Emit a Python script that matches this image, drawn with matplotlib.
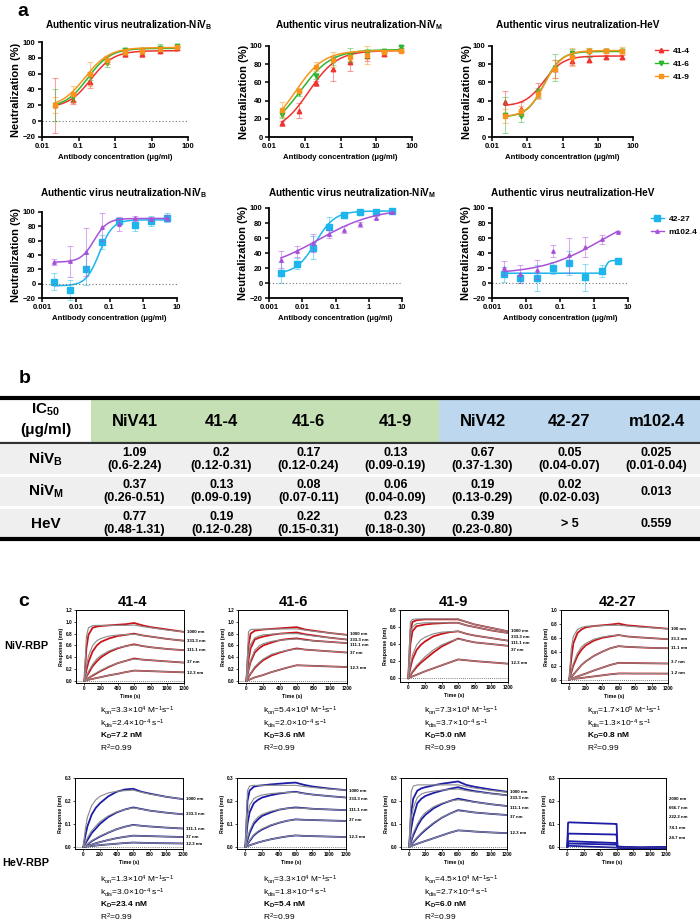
import numpy as np
import matplotlib
matplotlib.use("Agg")
import matplotlib.pyplot as plt
from matplotlib.lines import Line2D
from matplotlib.patches import Rectangle

plt.rcParams['font.family'] = ['Liberation Sans', 'DejaVu Sans']
plt.rcParams['mathtext.fontset'] = 'custom'
plt.rcParams['mathtext.rm'] = 'Liberation Sans'
plt.rcParams['mathtext.it'] = 'Liberation Sans'
plt.rcParams['mathtext.bf'] = 'Liberation Sans:bold'
plt.rcParams['mathtext.default'] = 'regular'

# ---------------- panel a data ----------------
conc_41 = [0.0229, 0.0686, 0.206, 0.617, 1.85, 5.56, 16.7, 50]
conc_42 = [0.00229, 0.00686, 0.0206, 0.0617, 0.185, 0.556, 1.67, 5]

nivb_414 = [20, 27, 50, 77, 85, 85, 89, 92]
nivb_414_err = [35, 5, 8, 5, 4, 4, 3, 2]
nivb_416 = [20, 30, 57, 74, 90, 90, 93, 95]
nivb_416_err = [20, 5, 5, 6, 3, 3, 5, 1]
nivb_419 = [20, 34, 60, 77, 87, 88, 91, 94]
nivb_419_err = [10, 10, 15, 5, 3, 3, 3, 1]

nivm_414 = [15, 29, 59, 75, 82, 89, 91, 96]
nivm_414_err = [3, 8, 3, 13, 10, 5, 2, 2]
nivm_416 = [24, 48, 67, 84, 90, 92, 94, 99]
nivm_416_err = [3, 3, 3, 5, 8, 5, 2, 1]
nivm_419 = [30, 51, 77, 85, 88, 90, 93, 95]
nivm_419_err = [8, 3, 5, 8, 5, 10, 2, 1]

hev_414 = [38, 31, 51, 75, 84, 85, 88, 88]
hev_414_err = [13, 8, 8, 10, 5, 3, 2, 2]
hev_416 = [24, 23, 49, 76, 92, 93, 94.5, 94.5]
hev_416_err = [20, 6, 5, 15, 5, 5, 2, 2]
hev_419 = [23, 29, 47, 75, 88, 95, 95, 95]
hev_419_err = [8, 5, 5, 10, 10, 3, 3, 4]

nivb_4227 = [3, -9, 20, 58, 87, 82, 87, 92]
nivb_4227_err = [12, 14, 22, 10, 5, 8, 7, 6]
nivb_m102 = [30, 31, 44, 79, 83, 91, 90, 92]
nivb_m102_err = [4, 22, 34, 19, 10, 3, 3, 4]

nivm_4227 = [14, 26, 47, 75, 91, 94, 95, 96]
nivm_4227_err = [14, 7, 15, 13, 4, 1, 1, 1]
nivm_m102 = [31, 42, 53, 65, 71, 78, 87, 94]
nivm_m102_err = [11, 7, 12, 5, 5, 3, 2, 1]

hev_4227 = [12, 7, 7, 19.5, 27, 8, 16, 30]
hev_4227_err = [10, 7, 17, 8, 16, 18, 8, 1]
hev_m102 = [20, 12.5, 18, 43, 37, 48, 58, 68.6]
hev_m102_err = [9, 12, 13, 8, 23, 13, 6, 1]

# 4PL fit parameters (bottom, top, EC50, hill)
fit_nivb = {'41-4': (17, 89, 0.22, 1.4), '41-6': (17, 92, 0.18, 1.4), '41-9': (17, 93, 0.15, 1.3),
            '42-27': (-3, 89, 0.05, 2.2), 'm102.4': (30, 91, 0.035, 2.2)}
fit_nivm = {'41-4': (5, 95, 0.13, 1.1), '41-6': (5, 96, 0.075, 1.0), '41-9': (5, 95, 0.055, 1.1),
            '42-27': (12, 96, 0.025, 1.5), 'm102.4': (15, 100, 0.03, 0.5)}
fit_hev = {'41-4': (34, 89, 0.30, 1.6), '41-6': (22, 94, 0.30, 1.8), '41-9': (22, 95, 0.31, 1.7),
           '42-27': (13, 30, 2.2, 10), 'm102.4': (12, 100, 1.5, 0.5)}

# ---------------- panel b data ----------------
table_cols = ['NiV41', '41-4', '41-6', '41-9', 'NiV42', '42-27', 'm102.4']
table_rows = ['NiV$_{B}$', 'NiV$_{M}$', 'HeV']
ic50_nivb = ['1.09\n(0.6-2.24)', '0.2\n(0.12-0.31)', '0.17\n(0.12-0.24)', '0.13\n(0.09-0.19)',
             '0.67\n(0.37-1.30)', '0.05\n(0.04-0.07)', '0.025\n(0.01-0.04)']
ic50_nivm = ['0.37\n(0.26-0.51)', '0.13\n(0.09-0.19)', '0.08\n(0.07-0.11)', '0.06\n(0.04-0.09)',
             '0.19\n(0.13-0.29)', '0.02\n(0.02-0.03)', '0.013']
ic50_hev = ['0.77\n(0.48-1.31)', '0.19\n(0.12-0.28)', '0.22\n(0.15-0.31)', '0.23\n(0.18-0.30)',
            '0.39\n(0.23-0.80)', '> 5', '0.559']

# ---------------- panel c data ----------------
t_bli = [0, 25, 50, 100, 150, 200, 300, 400, 500, 600, 700, 800, 1000, 1200]
conc_41_bli = ['1000 nm', '333.3 nm', '111.1 nm', '37 nm', '12.3 nm']
conc_4227_niv = ['100 nm', '33.3 nm', '11.1 nm', '3.7 nm', '1.2 nm']
conc_4227_hev = ['2000 nm', '666.7 nm', '222.2 nm', '74.1 nm', '24.7 nm']

niv_414 = [[0, 0.55, 0.78, 0.90, 0.92, 0.93, 0.94, 0.95, 0.96, 0.98, 0.94, 0.91, 0.87, 0.83],
           [0, 0.18, 0.32, 0.50, 0.60, 0.66, 0.72, 0.76, 0.78, 0.80, 0.77, 0.75, 0.71, 0.68],
           [0, 0.07, 0.13, 0.25, 0.33, 0.40, 0.49, 0.55, 0.59, 0.62, 0.59, 0.57, 0.54, 0.52],
           [0, 0.025, 0.05, 0.09, 0.13, 0.17, 0.24, 0.30, 0.34, 0.38, 0.36, 0.35, 0.33, 0.31],
           [0, 0.01, 0.02, 0.035, 0.05, 0.065, 0.095, 0.12, 0.15, 0.175, 0.17, 0.165, 0.155, 0.145]]
niv_414_fit = [[0, 0.75, 0.90, 0.935, 0.94, 0.94, 0.94, 0.94, 0.94, 0.945, 0.92, 0.90, 0.86, 0.83],
               [0, 0.25, 0.42, 0.60, 0.68, 0.72, 0.76, 0.775, 0.785, 0.79, 0.77, 0.75, 0.71, 0.68],
               [0, 0.08, 0.16, 0.28, 0.37, 0.43, 0.51, 0.56, 0.59, 0.61, 0.59, 0.57, 0.54, 0.52],
               [0, 0.025, 0.05, 0.10, 0.14, 0.18, 0.25, 0.30, 0.34, 0.37, 0.36, 0.35, 0.33, 0.31],
               [0, 0.01, 0.02, 0.035, 0.05, 0.065, 0.095, 0.12, 0.15, 0.175, 0.17, 0.165, 0.155, 0.145]]

niv_416 = [[0, 0.60, 0.80, 0.85, 0.86, 0.87, 0.88, 0.89, 0.90, 0.91, 0.87, 0.85, 0.81, 0.78],
           [0, 0.35, 0.55, 0.70, 0.73, 0.75, 0.78, 0.80, 0.81, 0.82, 0.79, 0.77, 0.73, 0.70],
           [0, 0.18, 0.32, 0.48, 0.55, 0.60, 0.65, 0.69, 0.71, 0.72, 0.70, 0.68, 0.66, 0.64],
           [0, 0.06, 0.12, 0.22, 0.29, 0.35, 0.43, 0.48, 0.52, 0.55, 0.53, 0.52, 0.50, 0.48],
           [0, 0.015, 0.03, 0.06, 0.08, 0.10, 0.15, 0.19, 0.23, 0.265, 0.26, 0.255, 0.245, 0.235]]
niv_416_fit = [[0, 0.83, 0.87, 0.875, 0.875, 0.875, 0.875, 0.88, 0.88, 0.88, 0.86, 0.84, 0.81, 0.78],
               [0, 0.45, 0.62, 0.73, 0.76, 0.78, 0.79, 0.80, 0.80, 0.80, 0.78, 0.76, 0.73, 0.70],
               [0, 0.20, 0.35, 0.52, 0.59, 0.63, 0.67, 0.69, 0.70, 0.71, 0.69, 0.68, 0.66, 0.64],
               [0, 0.07, 0.13, 0.24, 0.31, 0.37, 0.45, 0.49, 0.52, 0.54, 0.53, 0.52, 0.50, 0.48],
               [0, 0.015, 0.03, 0.06, 0.08, 0.10, 0.15, 0.19, 0.23, 0.265, 0.26, 0.255, 0.245, 0.235]]

niv_419 = [[0, 0.55, 0.66, 0.68, 0.685, 0.69, 0.69, 0.69, 0.69, 0.69, 0.66, 0.63, 0.59, 0.55],
           [0, 0.40, 0.55, 0.61, 0.62, 0.63, 0.64, 0.645, 0.65, 0.65, 0.62, 0.60, 0.56, 0.53],
           [0, 0.12, 0.22, 0.33, 0.39, 0.43, 0.49, 0.52, 0.54, 0.55, 0.52, 0.50, 0.47, 0.44],
           [0, 0.03, 0.07, 0.13, 0.18, 0.22, 0.30, 0.37, 0.42, 0.465, 0.44, 0.42, 0.40, 0.38],
           [0, 0.01, 0.02, 0.04, 0.06, 0.08, 0.115, 0.15, 0.185, 0.22, 0.21, 0.20, 0.185, 0.17]]
niv_419_fit = [[0, 0.66, 0.69, 0.695, 0.695, 0.695, 0.695, 0.695, 0.695, 0.695, 0.66, 0.63, 0.59, 0.55],
               [0, 0.50, 0.60, 0.64, 0.645, 0.65, 0.65, 0.65, 0.65, 0.65, 0.62, 0.60, 0.56, 0.53],
               [0, 0.16, 0.27, 0.39, 0.45, 0.48, 0.52, 0.54, 0.545, 0.55, 0.52, 0.50, 0.47, 0.44],
               [0, 0.04, 0.08, 0.15, 0.20, 0.25, 0.33, 0.39, 0.43, 0.46, 0.44, 0.42, 0.40, 0.38],
               [0, 0.01, 0.02, 0.04, 0.06, 0.08, 0.115, 0.15, 0.185, 0.22, 0.21, 0.20, 0.185, 0.17]]

niv_4227 = [[0, 0.30, 0.52, 0.67, 0.72, 0.75, 0.77, 0.78, 0.79, 0.805, 0.78, 0.77, 0.75, 0.73],
            [0, 0.10, 0.20, 0.34, 0.43, 0.49, 0.56, 0.60, 0.62, 0.64, 0.62, 0.61, 0.595, 0.58],
            [0, 0.03, 0.07, 0.14, 0.21, 0.26, 0.34, 0.40, 0.45, 0.48, 0.47, 0.465, 0.455, 0.45],
            [0, 0.01, 0.02, 0.045, 0.065, 0.085, 0.13, 0.17, 0.21, 0.24, 0.238, 0.236, 0.233, 0.23],
            [0, 0.005, 0.01, 0.015, 0.022, 0.03, 0.045, 0.06, 0.075, 0.087, 0.087, 0.086, 0.086, 0.085]]
niv_4227_fit = [[0, 0.45, 0.62, 0.72, 0.75, 0.765, 0.77, 0.775, 0.78, 0.78, 0.77, 0.76, 0.745, 0.73],
                [0, 0.12, 0.23, 0.38, 0.47, 0.52, 0.58, 0.61, 0.63, 0.64, 0.62, 0.61, 0.595, 0.58],
                [0, 0.03, 0.07, 0.14, 0.21, 0.26, 0.34, 0.40, 0.45, 0.48, 0.47, 0.465, 0.455, 0.45],
                [0, 0.01, 0.02, 0.045, 0.065, 0.085, 0.13, 0.17, 0.21, 0.24, 0.238, 0.236, 0.233, 0.23],
                [0, 0.005, 0.01, 0.015, 0.022, 0.03, 0.045, 0.06, 0.075, 0.087, 0.087, 0.086, 0.086, 0.085]]

hev_414_bli = [[0, 0.05, 0.09, 0.14, 0.17, 0.19, 0.22, 0.24, 0.25, 0.253, 0.24, 0.232, 0.218, 0.208],
               [0, 0.015, 0.03, 0.06, 0.08, 0.10, 0.13, 0.15, 0.163, 0.172, 0.165, 0.158, 0.149, 0.142],
               [0, 0.005, 0.01, 0.025, 0.035, 0.045, 0.062, 0.077, 0.088, 0.096, 0.092, 0.089, 0.084, 0.08],
               [0, 0.002, 0.005, 0.01, 0.016, 0.021, 0.03, 0.038, 0.044, 0.049, 0.048, 0.047, 0.045, 0.043],
               [0, 0.001, 0.002, 0.004, 0.006, 0.008, 0.011, 0.014, 0.017, 0.019, 0.018, 0.017, 0.016, 0.015]]
hev_414_fit = [[0, 0.08, 0.13, 0.18, 0.205, 0.22, 0.235, 0.242, 0.245, 0.247, 0.238, 0.23, 0.218, 0.208],
               [0, 0.02, 0.04, 0.07, 0.09, 0.11, 0.135, 0.152, 0.163, 0.17, 0.164, 0.158, 0.149, 0.142],
               [0, 0.006, 0.012, 0.027, 0.037, 0.047, 0.063, 0.077, 0.088, 0.095, 0.092, 0.089, 0.084, 0.08],
               [0, 0.002, 0.005, 0.01, 0.016, 0.021, 0.03, 0.038, 0.044, 0.049, 0.048, 0.047, 0.045, 0.043],
               [0, 0.001, 0.002, 0.004, 0.006, 0.008, 0.011, 0.014, 0.017, 0.019, 0.018, 0.017, 0.016, 0.015]]

hev_416_bli = [[0, 0.20, 0.245, 0.262, 0.266, 0.268, 0.272, 0.275, 0.278, 0.28, 0.27, 0.263, 0.254, 0.247],
               [0, 0.10, 0.15, 0.19, 0.205, 0.215, 0.225, 0.232, 0.237, 0.24, 0.233, 0.228, 0.221, 0.215],
               [0, 0.03, 0.06, 0.10, 0.12, 0.135, 0.15, 0.162, 0.168, 0.172, 0.169, 0.166, 0.163, 0.16],
               [0, 0.012, 0.025, 0.05, 0.065, 0.076, 0.093, 0.105, 0.114, 0.12, 0.118, 0.117, 0.115, 0.113],
               [0, 0.003, 0.007, 0.013, 0.019, 0.024, 0.033, 0.04, 0.046, 0.05, 0.048, 0.047, 0.045, 0.043]]
hev_416_fit = [[0, 0.245, 0.265, 0.268, 0.268, 0.268, 0.268, 0.268, 0.268, 0.268, 0.263, 0.259, 0.252, 0.247],
               [0, 0.13, 0.18, 0.21, 0.22, 0.226, 0.232, 0.235, 0.237, 0.238, 0.232, 0.228, 0.221, 0.215],
               [0, 0.04, 0.07, 0.11, 0.13, 0.142, 0.155, 0.163, 0.168, 0.17, 0.168, 0.166, 0.163, 0.16],
               [0, 0.014, 0.028, 0.053, 0.068, 0.079, 0.095, 0.106, 0.114, 0.119, 0.118, 0.117, 0.115, 0.113],
               [0, 0.003, 0.007, 0.013, 0.019, 0.024, 0.033, 0.04, 0.046, 0.05, 0.048, 0.047, 0.045, 0.043]]

hev_419_bli = [[0, 0.15, 0.21, 0.245, 0.255, 0.26, 0.268, 0.275, 0.28, 0.285, 0.27, 0.262, 0.25, 0.24],
               [0, 0.08, 0.13, 0.19, 0.21, 0.222, 0.235, 0.245, 0.253, 0.26, 0.25, 0.243, 0.233, 0.225],
               [0, 0.025, 0.05, 0.09, 0.12, 0.14, 0.168, 0.187, 0.2, 0.21, 0.203, 0.196, 0.186, 0.178],
               [0, 0.01, 0.02, 0.04, 0.058, 0.074, 0.103, 0.127, 0.145, 0.16, 0.155, 0.15, 0.144, 0.139],
               [0, 0.003, 0.007, 0.014, 0.02, 0.026, 0.038, 0.05, 0.062, 0.072, 0.07, 0.067, 0.063, 0.06]]
hev_419_fit = [[0, 0.24, 0.265, 0.27, 0.27, 0.27, 0.27, 0.27, 0.27, 0.27, 0.262, 0.256, 0.246, 0.238],
               [0, 0.12, 0.17, 0.215, 0.23, 0.237, 0.243, 0.247, 0.25, 0.252, 0.245, 0.24, 0.232, 0.225],
               [0, 0.03, 0.06, 0.10, 0.13, 0.15, 0.175, 0.19, 0.2, 0.205, 0.2, 0.195, 0.186, 0.178],
               [0, 0.01, 0.022, 0.043, 0.062, 0.078, 0.106, 0.128, 0.145, 0.158, 0.154, 0.15, 0.144, 0.139],
               [0, 0.003, 0.007, 0.014, 0.02, 0.026, 0.038, 0.05, 0.062, 0.072, 0.07, 0.067, 0.063, 0.06]]

t_4227_hev = [0, 10, 20, 595, 600, 610, 700, 900, 1200]
hev_4227_bli = [[0, 0.105, 0.107, 0.100, 0.100, 0.002, 0.0, -0.002, 0.0],
                [0, 0.055, 0.058, 0.054, 0.054, 0.0, -0.002, -0.003, -0.002],
                [0, 0.020, 0.025, 0.017, 0.017, -0.002, -0.003, -0.003, -0.002],
                [0, 0.012, 0.015, 0.010, 0.010, -0.002, -0.003, -0.004, -0.003],
                [0, 0.003, 0.005, -0.003, -0.003, -0.004, -0.005, -0.005, -0.004]]

kinetics = {
    ('NiV', '41-4'): ('3.3', '4', '2.4', '7.2'),
    ('NiV', '41-6'): ('5.4', '4', '2.0', '3.6'),
    ('NiV', '41-9'): ('7.3', '4', '3.7', '5.0'),
    ('NiV', '42-27'): ('1.7', '5', '1.3', '0.8'),
    ('HeV', '41-4'): ('1.3', '4', '3.0', '23.4'),
    ('HeV', '41-6'): ('3.3', '4', '1.8', '5.4'),
    ('HeV', '41-9'): ('4.5', '4', '2.7', '6.0'),
}

# ---------------- styling ----------------
RED, GREEN, ORANGE = '#ee3330', '#2db52d', '#f7941d'
CYAN, PURPLE = '#1cb5ec', '#a851d9'
BLI_RED, BLI_BLUE, FIT_GREY = '#c8141a', '#1c1ca6', '#8a8a8a'

W, H = 700, 922
fig = plt.figure(figsize=(7, 9.22), dpi=100)


def px_axes(x0, y0, x1, y1):
    return fig.add_axes([x0 / W, 1 - y1 / H, (x1 - x0) / W, (y1 - y0) / H])


def ftext(x, y, s, **kw):
    fig.text(x / W, 1 - y / H, s, **kw)


def neut_panel(box, conc, series, ylim, yticks, xlim, xticks, title_xy, title):
    ax = px_axes(*box)
    for name, vals, errs, fit, color, marker, ms in series:
        ax.errorbar(conc, vals, yerr=errs, fmt='none', ecolor=color, alpha=0.45,
                    elinewidth=0.8, capsize=2, capthick=0.8, clip_on=False)
        xs = np.logspace(np.log10(conc[0]), np.log10(conc[-1]), 300)
        b, t, ec, h = fit
        ax.plot(xs, b + (t - b) / (1 + (ec / xs) ** h), color=color, lw=1.1)
        ax.plot(conc, vals, ls='none', marker=marker, color=color, ms=ms, clip_on=False)
    ax.set_xscale('log')
    ax.set_xlim(*xlim)
    ax.set_ylim(*ylim)
    ax.set_xticks(xticks)
    ax.set_xticklabels([f'{v:g}' for v in xticks])
    ax.set_yticks(yticks)
    ax.minorticks_off()
    ax.axhline(0, color='#777777', ls=(0, (1, 2)), lw=0.8)
    for s in ['top', 'right']:
        ax.spines[s].set_visible(False)
    for s in ['left', 'bottom']:
        ax.spines[s].set_linewidth(1.3)
    ax.tick_params(labelsize=5.5, width=1.1, length=3, pad=1.5)
    for lab in ax.get_xticklabels() + ax.get_yticklabels():
        lab.set_fontweight('bold')
    ax.set_ylabel('Neutralization (%)', fontsize=8, fontweight='bold', labelpad=1)
    ax.set_xlabel('Antibody concentration (\u03bcg/ml)', fontsize=5.6, fontweight='bold', labelpad=3)
    ftext(title_xy[0], title_xy[1], title, fontsize=7.2, fontweight='bold', ha='center', va='center')
    return ax


top_xt = [0.01, 0.1, 1, 10, 100]
bot_xt = [0.001, 0.01, 0.1, 1, 10]
ytk = [-20, 0, 20, 40, 60, 80, 100]
ytk0 = [0, 20, 40, 60, 80, 100]

neut_panel((42, 42, 188, 137), conc_41,
           [('41-4', nivb_414, nivb_414_err, fit_nivb['41-4'], RED, '^', 3.2),
            ('41-6', nivb_416, nivb_416_err, fit_nivb['41-6'], GREEN, 'v', 3.2),
            ('41-9', nivb_419, nivb_419_err, fit_nivb['41-9'], ORANGE, 's', 2.8)],
           (-20, 100), ytk, (0.01, 100), top_xt, (129, 25),
           r'Authentic virus neutralization-NiV$_{\mathbf{B}}$')
neut_panel((269, 46, 412, 137), conc_41,
           [('41-4', nivm_414, nivm_414_err, fit_nivm['41-4'], RED, '^', 3.2),
            ('41-6', nivm_416, nivm_416_err, fit_nivm['41-6'], GREEN, 'v', 3.2),
            ('41-9', nivm_419, nivm_419_err, fit_nivm['41-9'], ORANGE, 's', 2.8)],
           (0, 100), ytk0, (0.01, 100), top_xt, (359, 25),
           r'Authentic virus neutralization-NiV$_{\mathbf{M}}$')
neut_panel((492, 46, 633, 137), conc_41,
           [('41-4', hev_414, hev_414_err, fit_hev['41-4'], RED, '^', 3.2),
            ('41-6', hev_416, hev_416_err, fit_hev['41-6'], GREEN, 'v', 3.2),
            ('41-9', hev_419, hev_419_err, fit_hev['41-9'], ORANGE, 's', 2.8)],
           (0, 100), ytk0, (0.01, 100), top_xt, (578, 25),
           'Authentic virus neutralization-HeV')
h1 = [Line2D([], [], color=RED, marker='^', ms=3.2, lw=1),
      Line2D([], [], color=GREEN, marker='v', ms=3.2, lw=1),
      Line2D([], [], color=ORANGE, marker='s', ms=2.8, lw=1)]
fig.legend(h1, ['41-4', '41-6', '41-9'], loc='upper left', bbox_to_anchor=(647 / W, 1 - 40 / H),
           frameon=False, prop={'size': 6, 'weight': 'bold'}, handlelength=1.6,
           handletextpad=0.6, labelspacing=0.6)

neut_panel((42, 212, 177, 298), conc_42,
           [('42-27', nivb_4227, nivb_4227_err, fit_nivb['42-27'], CYAN, 's', 3.8),
            ('m102.4', nivb_m102, nivb_m102_err, fit_nivb['m102.4'], PURPLE, '^', 2.5)],
           (-20, 100), ytk, (0.001, 10), bot_xt, (124, 193),
           r'Authentic virus neutralization-NiV$_{\mathbf{B}}$')
neut_panel((269, 208, 402, 298), conc_42,
           [('42-27', nivm_4227, nivm_4227_err, fit_nivm['42-27'], CYAN, 's', 3.8),
            ('m102.4', nivm_m102, nivm_m102_err, fit_nivm['m102.4'], PURPLE, '^', 2.5)],
           (-20, 100), ytk, (0.001, 10), bot_xt, (352, 193),
           r'Authentic virus neutralization-NiV$_{\mathbf{M}}$')
neut_panel((492, 208, 628, 298), conc_42,
           [('42-27', hev_4227, hev_4227_err, fit_hev['42-27'], CYAN, 's', 3.8),
            ('m102.4', hev_m102, hev_m102_err, fit_hev['m102.4'], PURPLE, '^', 2.5)],
           (-20, 100), ytk, (0.001, 10), bot_xt, (573, 193),
           'Authentic virus neutralization-HeV')
h2 = [Line2D([], [], color=CYAN, marker='s', ms=3.8, lw=1),
      Line2D([], [], color=PURPLE, marker='^', ms=2.5, lw=1)]
fig.legend(h2, ['42-27', 'm102.4'], loc='upper left', bbox_to_anchor=(643 / W, 1 - 208 / H),
           frameon=False, prop={'size': 6, 'weight': 'bold'}, handlelength=1.6,
           handletextpad=0.6, labelspacing=0.6)

# ---------------- panel b: table ----------------
tb = px_axes(0, 390, 700, 545)
tb.set_xlim(0, 700)
tb.set_ylim(545, 390)
tb.axis('off')
lab_w = 91
col_w = (700 - lab_w) / len(table_cols)
tb.add_patch(Rectangle((lab_w, 399), col_w * 4, 43, color='#c5e0b4', lw=0))
tb.add_patch(Rectangle((lab_w + col_w * 4, 399), col_w * 3, 43, color='#bdd7ee', lw=0))
row_tops = [445, 477, 509]
for y0 in row_tops:
    tb.add_patch(Rectangle((0, y0), 700, 29, color='#efefef', lw=0))
tb.plot([0, 700], [397.5, 397.5], color='black', lw=3, solid_capstyle='butt')
tb.plot([0, 700], [443, 443], color='#333333', lw=1.6, solid_capstyle='butt')
tb.plot([0, 700], [539, 539], color='black', lw=3, solid_capstyle='butt')
tb.text(lab_w / 2, 410, 'IC$_{50}$', fontsize=11, fontweight='bold', ha='center', va='center')
tb.text(lab_w / 2, 430, '(\u03bcg/ml)', fontsize=11, fontweight='bold', ha='center', va='center')
for i, c in enumerate(table_cols):
    tb.text(lab_w + col_w * (i + 0.5), 421, c, fontsize=12, fontweight='bold', ha='center', va='center')
for y0, rname, vals in zip(row_tops, table_rows, [ic50_nivb, ic50_nivm, ic50_hev]):
    tb.text(lab_w / 2, y0 + 14.5, rname, fontsize=11, fontweight='bold', ha='center', va='center')
    for i, v in enumerate(vals):
        tb.text(lab_w + col_w * (i + 0.5), y0 + 14.5, v, fontsize=9, fontweight='bold',
                ha='center', va='center', linespacing=1.1)

# ---------------- panel c: BLI ----------------
def bli_panel(box, t, traces, fits, color, ylim, yticks, labels, label_y):
    ax = px_axes(*box)
    for tr in traces:
        ax.plot(t, tr, color=color, lw=1.3)
    for f in fits:
        ax.plot(t, f, color=FIT_GREY, lw=0.8)
    ax.axhline(0, color='#555555', ls=(0, (1, 1.5)), lw=0.6)
    ax.set_xlim(-100, 1200)
    ax.set_ylim(*ylim)
    ax.set_xticks([0, 200, 400, 600, 800, 1000, 1200])
    ax.set_yticks(yticks)
    ax.set_yticklabels([f'{v:.1f}' for v in yticks])
    for s in ax.spines.values():
        s.set_linewidth(0.7)
    ax.tick_params(labelsize=3.4, width=0.5, length=1.5, pad=1)
    for lab in ax.get_xticklabels() + ax.get_yticklabels():
        lab.set_fontweight('bold')
    ax.set_xlabel('Time (s)', fontsize=3.8, fontweight='bold', labelpad=1.5)
    ax.set_ylabel('Response (nm)', fontsize=3.8, fontweight='bold', labelpad=1.5)
    tr = ax.get_yaxis_transform()
    for lab, y in zip(labels, label_y):
        ax.text(1.03, y, lab, transform=tr, fontsize=3.2, fontweight='bold', va='center', ha='left')
    return ax


def kin_text(x, y0, key):
    kon, exp, kdis, kd = kinetics[key]
    ftext(x, y0, f'k$_{{on}}$={kon}\u00d710$^{{{exp}}}$ M$^{{-1}}$s$^{{-1}}$', fontsize=6, va='center')
    ftext(x, y0 + 13, f'k$_{{dis}}$={kdis}\u00d710$^{{-4}}$ s$^{{-1}}$', fontsize=6, va='center')
    ftext(x, y0 + 25, f'K$_{{D}}$={kd} nM', fontsize=6, fontweight='bold', va='center')
    ftext(x, y0 + 37, 'R$^{2}$=0.99', fontsize=6, va='center')


ytk12 = [0.0, 0.2, 0.4, 0.6, 0.8, 1.0, 1.2]
bli_panel((76, 610, 184, 683), t_bli, niv_414, niv_414_fit, BLI_RED, (-0.035, 1.2), ytk12,
          conc_41_bli, [0.82, 0.68, 0.52, 0.32, 0.14])
bli_panel((238, 610, 347, 683), t_bli, niv_416, niv_416_fit, BLI_RED, (-0.035, 1.2), ytk12,
          conc_41_bli, [0.80, 0.70, 0.60, 0.475, 0.22])
bli_panel((400, 610, 508, 682), t_bli, niv_419, niv_419_fit, BLI_RED, (-0.045, 0.8),
          [0.0, 0.2, 0.4, 0.6, 0.8], conc_41_bli, [0.55, 0.48, 0.41, 0.33, 0.175])
bli_panel((561, 610, 668, 683), t_bli, niv_4227, niv_4227_fit, BLI_RED, (-0.05, 1.0),
          [0.0, 0.2, 0.4, 0.6, 0.8, 1.0], conc_4227_niv, [0.725, 0.58, 0.45, 0.245, 0.10])

hev_yt = [0.0, 0.1, 0.2, 0.3]
bli_panel((75, 778, 183, 849), t_bli, hev_414_bli, hev_414_fit, BLI_BLUE, (-0.009, 0.3), hev_yt,
          conc_41_bli, [0.209, 0.143, 0.078, 0.043, 0.012])
bli_panel((237, 778, 346, 849), t_bli, hev_416_bli, hev_416_fit, BLI_BLUE, (-0.009, 0.3), hev_yt,
          conc_41_bli, [0.243, 0.209, 0.161, 0.117, 0.043])
bli_panel((401, 778, 507, 849), t_bli, hev_419_bli, hev_419_fit, BLI_BLUE, (-0.009, 0.3), hev_yt,
          conc_41_bli, [0.239, 0.213, 0.17, 0.13, 0.061])
bli_panel((559, 778, 666, 849), t_4227_hev, hev_4227_bli, [], BLI_BLUE, (-0.009, 0.3), hev_yt,
          conc_4227_hev, [0.208, 0.168, 0.129, 0.082, 0.037])

for x, name in zip([132, 293, 453, 618], ['41-4', '41-6', '41-9', '42-27']):
    ftext(x, 602, name, fontsize=10.5, fontweight='bold', ha='center', va='center')
ftext(26, 646, 'NiV-RBP', fontsize=7.8, fontweight='bold', ha='center', va='center')
ftext(26, 863, 'HeV-RBP', fontsize=7.8, fontweight='bold', ha='center', va='center')

for x, name in zip([100, 263, 424, 587], ['41-4', '41-6', '41-9', '42-27']):
    kin_text(x, 711, ('NiV', name))
for x, name in zip([100, 263, 424], ['41-4', '41-6', '41-9']):
    kin_text(x, 880, ('HeV', name))

# panel letters
ftext(23, 12, 'a', fontsize=14, fontweight='bold', ha='center', va='center')
ftext(25, 378, 'b', fontsize=14, fontweight='bold', ha='center', va='center')
ftext(24, 602, 'c', fontsize=14, fontweight='bold', ha='center', va='center')

fig.savefig('out.png', dpi=100)
